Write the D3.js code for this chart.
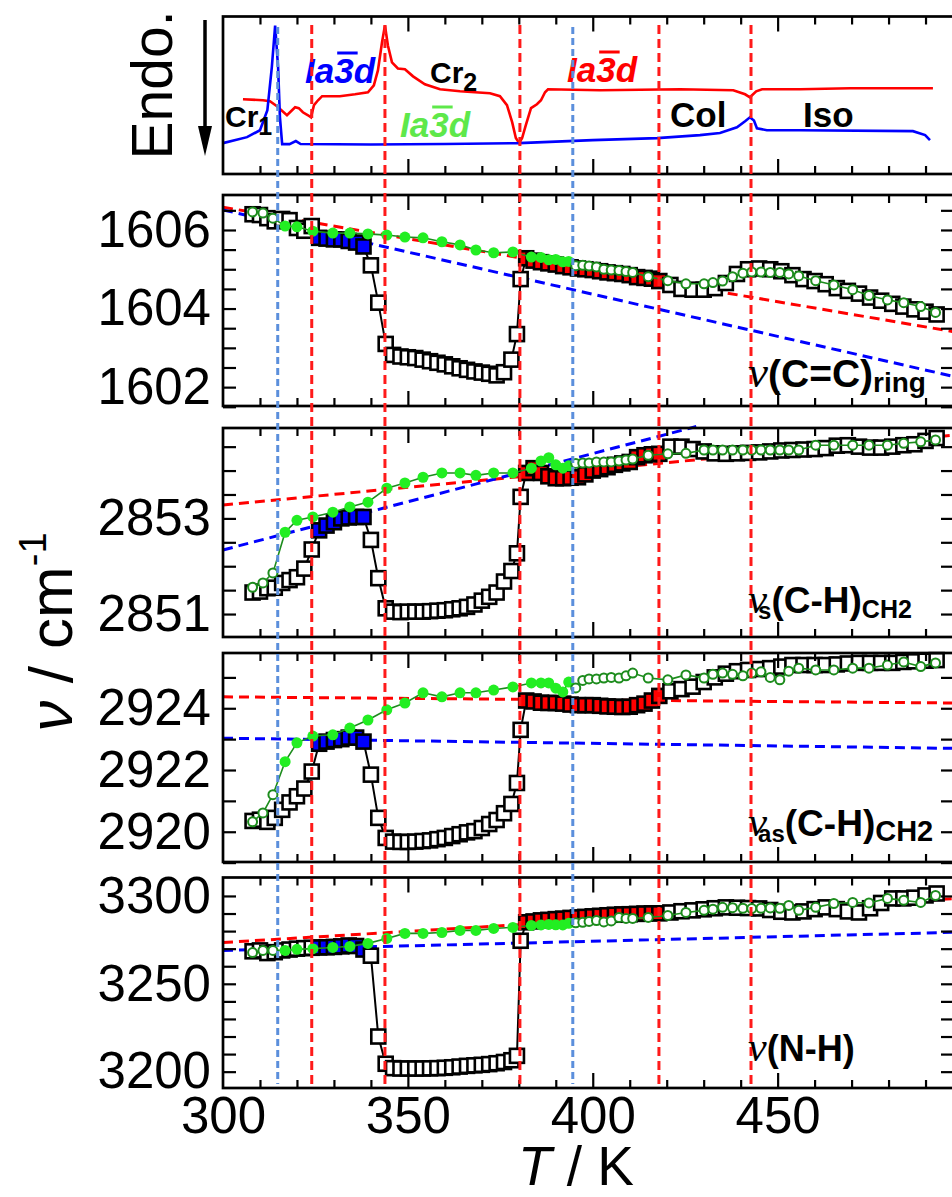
<!DOCTYPE html>
<meta charset="utf-8">
<head>
<script src="https://cdn.jsdelivr.net/npm/d3@7"></script>
<style>
body { margin: 0; background: #fff; }
text { font-family: "Liberation Sans", Arial, sans-serif; }
</style>
</head>
<body>
<div id="chart"></div>
<script>

// ---------- data ----------
// DSC traces, arbitrary heat-flow units vs T (K)
var dscBlueT = [300, 306.5, 310, 312, 313.2, 314.1, 314.9, 315.4, 316, 318, 319.7, 321, 340, 360, 380, 400, 417.4, 429, 434.4, 439, 441.2, 442.5, 443.6, 444.4, 447.1, 456, 486.6, 489.9, 491.2];
var dscBlue  = [1.96, 2.34, 2.78, 4.05, 6.77, 9.43, 6.77, 3.6, 1.9, 1.9, 2.09, 1.9, 1.87, 1.9, 1.96, 2.15, 2.28, 2.47, 2.6, 2.97, 3.35, 3.6, 3.4, 2.9, 2.78, 2.78, 2.72, 2.47, 2.15];
var dscRedT = [305.4, 310.8, 312.7, 314.6, 317.3, 319.5, 320.5, 321.6, 323.0, 323.8, 324.6, 325.7, 326.8, 331.6, 335.7, 339.2, 340.8, 341.9, 343.0, 343.8, 344.6, 345.7, 347.3, 349.2, 351.4, 354.6, 358.7, 364.1, 372.2, 374.9, 376.8, 378.2, 379.2, 380.1, 380.9, 381.9, 383.3, 384.9, 386.0, 387.1, 387.9, 402.0, 423.6, 438.0, 441.2, 442.5, 444.2, 445.8, 456.1, 469.6, 492.0];
var dscRed  = [4.75, 4.68, 4.62, 4.3, 3.73, 4.24, 4.18, 3.92, 3.73, 3.6, 4.37, 4.68, 4.94, 4.94, 5.06, 5.19, 5.63, 6.58, 8.35, 9.43, 8.16, 7.09, 6.7, 6.65, 6.2, 5.7, 5.38, 5.25, 5.13, 4.94, 4.37, 3.29, 2.28, 1.96, 2.28, 3.1, 4.18, 4.43, 4.68, 5.19, 5.38, 5.32, 5.38, 5.32, 5.06, 4.87, 5.25, 5.38, 5.38, 5.44, 5.44];

// phase boundaries (K)
var phaseRed = [324, 343.8, 380.3, 417.9, 442.8];
var phaseBlue = [314.8, 394.6];

// heating run (squares), temperatures shared by all four bands
var heatT = [308,310,312,314,316,318,320,322,324,326,328,330,332,334,336,338,340,342,344,346,348,350,352,354,356,358,360,362,364,366,368,370,372,374,376,378,379.5,380.5,382,384,386,388,390,392,394,396,398,400,402,404,406,408,410,412,414,416,418,421,424,427,430,433,436,439,442,445,448,451,454,457,460,463,466,469,472,475,478,481,484,487,490,493];

var heatCC = [1606.40,1606.38,1606.30,1606.22,1606.28,1606.25,1606.05,1605.98,1606.10,1605.80,
  1605.78,1605.76,1605.76,1605.72,1605.68,1605.58,1605.10,1604.15,1603.10,1602.82,
  1602.78,1602.76,1602.74,1602.70,1602.66,1602.62,1602.58,1602.53,1602.48,1602.44,
  1602.40,1602.37,1602.34,1602.30,1602.38,1602.70,
  1603.35,1604.75,
  1605.28,1605.22,1605.18,1605.15,1605.12,1605.08,1605.05,1605.02,1605.00,1604.98,
  1604.95,1604.92,1604.90,1604.88,1604.85,1604.80,1604.78,1604.76,1604.70,
  1604.60,1604.50,1604.48,1604.48,1604.52,1604.65,1604.88,1605.00,1605.02,1605.00,
  1604.95,1604.85,1604.75,1604.70,1604.62,1604.52,1604.45,1604.38,1604.28,1604.20,
  1604.12,1604.05,1603.98,1603.92,1603.85];

var heatCH2s = [2851.45,2851.47,2851.54,2851.55,2851.65,2851.71,2851.77,2851.95,2852.35,2852.75,
  2852.85,2852.92,2853.00,2853.02,2853.03,2853.03,2852.55,2851.75,2851.12,2851.05,
  2851.04,2851.05,2851.05,2851.05,2851.06,2851.07,2851.08,2851.10,2851.12,2851.15,
  2851.20,2851.28,2851.36,2851.45,2851.68,2851.90,
  2852.27,2853.45,
  2853.95,2854.05,2853.95,2853.88,2853.84,2853.84,2853.85,2853.86,2853.92,2854.00,
  2854.03,2854.07,2854.12,2854.15,2854.18,2854.28,2854.32,2854.34,2854.35,
  2854.50,2854.50,2854.45,2854.40,2854.36,2854.35,2854.36,2854.37,2854.38,2854.40,
  2854.42,2854.43,2854.44,2854.45,2854.47,2854.52,2854.53,2854.50,2854.48,2854.48,
  2854.50,2854.53,2854.55,2854.62,2854.68];

var heatCH2as = [2920.35,2920.39,2920.32,2920.45,2920.71,2920.95,2921.15,2921.40,2921.95,2922.85,
  2922.92,2922.97,2923.00,2923.05,2923.05,2922.92,2921.85,2920.45,2919.80,2919.68,
  2919.67,2919.67,2919.68,2919.70,2919.72,2919.76,2919.80,2919.86,2919.92,2919.98,
  2920.02,2920.12,2920.25,2920.38,2920.60,2920.90,
  2921.58,2923.30,
  2924.25,2924.22,2924.18,2924.17,2924.17,2924.15,2924.12,2924.10,2924.10,2924.10,
  2924.08,2924.06,2924.05,2924.04,2924.05,2924.10,2924.15,2924.25,2924.40,
  2924.55,2924.62,2924.70,2924.85,2925.00,2925.12,2925.20,2925.24,2925.27,2925.30,
  2925.35,2925.40,2925.40,2925.40,2925.40,2925.42,2925.45,2925.47,2925.47,2925.47,
  2925.47,2925.50,2925.52,2925.54,2925.56];

var heatNH = [3268.5,3269.0,3267.5,3268.0,3269.0,3269.5,3270.0,3270.3,3270.5,3270.7,
  3270.8,3271.0,3271.3,3271.8,3271.5,3269.5,3266.0,3220.0,3204.5,3202.0,
  3201.8,3201.8,3201.8,3201.8,3201.9,3202.0,3202.2,3202.5,3202.9,3203.3,
  3203.6,3203.9,3204.3,3204.8,3205.5,3206.5,
  3209.0,3274.5,
  3285.0,3285.5,3286.1,3286.4,3286.8,3287.1,3287.5,3287.8,3288.1,3288.4,
  3288.7,3289.0,3289.3,3289.5,3289.6,3289.8,3290.0,3290.1,3290.1,
  3290.6,3291.3,3291.8,3292.4,3293.0,3293.5,3293.3,3293.1,3292.9,3292.0,
  3291.0,3290.6,3291.2,3292.5,3293.5,3292.5,3291.2,3290.6,3293.0,3296.0,
  3298.6,3298.6,3299.0,3300.3,3301.4];

// cooling run (green circles)
var coolT = [308,310.8,313.5,316.8,320,324.3,329.7,334.3,339.2,344.3,
  349.2,354.1,359.2,364.1,368.4,373.2,378.4,383.4,386,388.1,
  390,391.9,393.5,395.4,397.3,399,401,403,405,407.1,
  409,410.8,415,420.3,425.2,430.1,432.5,435.1,437.8,440.6,
  443,445.5,448,450.6,453,455.7,460.3,465.2,470.3,474.7,
  479.7,484.1,488.7,492.7];

var coolCC = [1606.46,1606.43,1606.30,1606.10,1606.08,1605.97,1605.92,1605.92,1605.90,1605.87,
  1605.82,1605.80,1605.70,1605.62,1605.49,1605.42,1605.44,1605.31,1605.30,1605.24,
  1605.25,1605.19,1605.20,1605.09,1605.10,1605.08,1605.06,1605.00,1604.98,1604.97,
  1604.94,1604.92,1604.81,1604.71,1604.63,1604.63,1604.66,1604.70,1604.81,1604.90,
  1604.93,1604.93,1604.92,1604.92,1604.88,1604.83,1604.71,1604.60,1604.48,1604.33,
  1604.22,1604.15,1604.05,1603.90];

var coolCH2s = [2851.56,2851.65,2851.86,2852.71,2852.96,2853.03,2853.13,2853.24,2853.34,2853.63,
  2853.74,2853.86,2853.95,2853.95,2853.90,2853.95,2853.95,2854.05,2854.20,2854.27,
  2854.12,2854.05,2854.10,2854.15,2854.16,2854.16,2854.18,2854.18,2854.18,2854.20,
  2854.22,2854.24,2854.32,2854.35,2854.36,2854.43,2854.43,2854.43,2854.43,2854.43,
  2854.43,2854.43,2854.43,2854.43,2854.43,2854.43,2854.53,2854.53,2854.53,2854.53,
  2854.53,2854.57,2854.60,2854.64];

var coolCH2as = [2920.32,2920.61,2921.20,2922.27,2922.88,2923.10,2923.14,2923.36,2923.62,2923.95,
  2924.17,2924.50,2924.37,2924.50,2924.50,2924.59,2924.69,2924.82,2924.82,2924.82,
  2924.65,2924.53,2924.85,2924.66,2924.90,2924.95,2924.95,2924.98,2925.00,2924.98,
  2925.05,2925.14,2924.98,2924.92,2925.08,2924.98,2925.10,2925.14,2925.10,2925.05,
  2925.14,2925.18,2925.00,2924.92,2925.20,2925.30,2925.24,2925.24,2925.30,2925.30,
  2925.40,2925.50,2925.35,2925.47];

var coolNH = [3267.8,3269.0,3269.0,3269.0,3269.6,3270.0,3270.7,3271.3,3273.0,3275.8,
  3278.7,3278.7,3279.2,3280.4,3280.4,3281.5,3282.1,3283.2,3283.5,3283.8,
  3283.6,3283.5,3284.4,3284.7,3285.0,3285.5,3286.0,3285.2,3285.8,3287.8,
  3287.2,3287.2,3287.8,3288.9,3290.6,3291.8,3292.5,3293.5,3293.3,3293.0,
  3292.8,3293.0,3293.2,3293.0,3294.6,3291.8,3293.5,3295.7,3296.3,3296.0,
  3298.6,3297.5,3296.3,3300.3];

// linear reference lines [T, value]
var fitRedCC = [[300, 1606.58], [497.7, 1603.41]];
var fitBlueCC = [[300, 1606.51], [497.7, 1602.27]];
var fitRedCH2s = [[300, 2853.28], [497.7, 2854.74]];
var fitBlueCH2s = [[300, 2852.34], [428, 2854.92]];
var fitRedCH2as = [[300, 2924.37], [497.7, 2924.17]];
var fitBlueCH2as = [[300, 2923.03], [497.7, 2922.70]];
var fitRedNH = [[300, 3273.5], [497.7, 3298.5]];
var fitBlueNH = [[300, 3269.0], [497.7, 3279.3]];

// axis ticks
var xMajor = [300, 350, 400, 450];
var ticksCC = d3.range(1601.5, 1607, 0.5), majorCC = [1602, 1604, 1606];
var ticksCH2s = d3.range(2851, 2855, 0.5), majorCH2s = [2851, 2853];
var ticksCH2as = d3.range(2919, 2926, 1), majorCH2as = [2920, 2922, 2924];
var ticksNH = d3.range(3200, 3310, 10), majorNH = [3200, 3250, 3300];

// ---------- layout ----------
var width = 952, height = 1197;
var left = 223, right = 954;

var svg = d3.select("#chart").append("svg")
    .attr("width", width)
    .attr("height", height);

var x = d3.scaleLinear().domain([300, 497.7]).range([left, right]);

var panels = [
  {top: 195, bottom: 406, dom: [1601.52, 1606.89], ticks: ticksCC, major: majorCC,
   heat: heatCC, cool: coolCC, fitRed: fitRedCC, fitBlue: fitBlueCC},
  {top: 428, bottom: 637, dom: [2850.52, 2854.89], ticks: ticksCH2s, major: majorCH2s,
   heat: heatCH2s, cool: coolCH2s, fitRed: fitRedCH2s, fitBlue: fitBlueCH2s},
  {top: 653, bottom: 862, dom: [2919.02, 2925.79], ticks: ticksCH2as, major: majorCH2as,
   heat: heatCH2as, cool: coolCH2as, fitRed: fitRedCH2as, fitBlue: fitBlueCH2as},
  {top: 877.5, bottom: 1088, dom: [3190.7, 3310.5], ticks: ticksNH, major: majorNH,
   heat: heatNH, cool: coolNH, fitRed: fitRedNH, fitBlue: fitBlueNH}
];

function xTicks(top, bottom) {
  var minor = d3.range(310, 497, 10).filter(function(t) { return t % 50 != 0; });
  var major = [350, 400, 450];
  [[minor, 8], [major, 15]].forEach(function(m) {
    svg.append("g").attr("class", "tk")
        .attr("transform", "translate(0," + bottom + ")")
        .call(d3.axisBottom(x).tickValues(m[0]).tickSize(-m[1]).tickFormat(""));
    svg.append("g").attr("class", "tk")
        .attr("transform", "translate(0," + top + ")")
        .call(d3.axisTop(x).tickValues(m[0]).tickSize(-m[1]).tickFormat(""));
  });
}

function frame(top, bottom) {
  svg.append("rect")
      .attr("x", left).attr("y", top)
      .attr("width", right - left).attr("height", bottom - top)
      .attr("fill", "none").attr("stroke", "#000").attr("stroke-width", 2.7);
}

// ---------- DSC panel ----------
var dscTop = 16.5, dscBottom = 174;
var yDsc = d3.scaleLinear().domain([0, 10]).range([dscBottom, dscTop]);
var dscLine = d3.line().x(function(d) { return x(d[0]); }).y(function(d) { return yDsc(d[1]); });

svg.append("path")
    .datum(dscRedT.map(function(t, i) { return [t, dscRed[i]]; }))
    .attr("d", dscLine).attr("fill", "none").attr("stroke", "#ff0000").attr("stroke-width", 2.6);
svg.append("path")
    .datum(dscBlueT.map(function(t, i) { return [t, dscBlue[i]]; }))
    .attr("d", dscLine).attr("fill", "none").attr("stroke", "#0000ff").attr("stroke-width", 2.6);

xTicks(dscTop, dscBottom);
frame(dscTop, dscBottom);

function phaseText(px, py, name, sub, size) {
  var t = svg.append("text").attr("x", px).attr("y", py)
      .attr("font-size", size).attr("font-weight", "bold").text(name);
  if (sub) t.append("tspan").attr("font-size", 25).attr("dy", 8).text(sub);
}

function ia3d(px, py, color) {
  var t = svg.append("text").attr("x", px).attr("y", py)
      .attr("fill", color).attr("font-size", 35)
      .attr("font-weight", "bold").attr("font-style", "italic")
      .text("Ia3d");
  var b = t.node().getExtentOfChar(2);
  svg.append("line")
      .attr("x1", b.x + 3).attr("x2", b.x + b.width + 4)
      .attr("y1", b.y + 2).attr("y2", b.y + 2)
      .attr("stroke", color).attr("stroke-width", 3);
}

phaseText(225, 127, "Cr", "1", 30);
phaseText(430, 83, "Cr", "2", 30);
phaseText(670, 127, "Col", null, 35);
phaseText(803, 127, "Iso", null, 35);
ia3d(305, 83, "#0000ff");
ia3d(400, 137, "#5ee84a");
ia3d(567, 82, "#ff0000");

// Endo. arrow
svg.append("text")
    .attr("transform", "translate(172,85) rotate(-90)")
    .attr("text-anchor", "middle").attr("font-size", 57).text("Endo.");
svg.append("line").attr("x1", 205).attr("x2", 205).attr("y1", 20).attr("y2", 130)
    .attr("stroke", "#000").attr("stroke-width", 3.5);
svg.append("path").attr("d", "M198,126 L212,126 L205,156 Z").attr("fill", "#000");

// ---------- spectroscopy panels ----------
panels.forEach(function(p, k) {
  var y = d3.scaleLinear().domain(p.dom).range([p.bottom, p.top]);
  var line = d3.line().x(function(d) { return x(d[0]); }).y(function(d) { return y(d[1]); });
  var g = svg.append("g");

  // reference lines
  [[p.fitRed, "#ff0000"], [p.fitBlue, "#0000ff"]].forEach(function(f) {
    g.append("path").datum(f[0]).attr("d", line)
        .attr("fill", "none").attr("stroke", f[1]).attr("stroke-width", 3)
        .attr("stroke-dasharray", "10,6");
  });

  // heating: squares
  var heat = heatT.map(function(t, i) { return [t, p.heat[i]]; });
  g.append("path").datum(heat).attr("d", line)
      .attr("fill", "none").attr("stroke", "#000").attr("stroke-width", 2);
  g.selectAll(".sq").data(heat).enter().append("rect")
      .attr("x", function(d) { return x(d[0]) - 7; })
      .attr("y", function(d) { return y(d[1]) - 7; })
      .attr("width", 14).attr("height", 14)
      .attr("fill", function(d) {
        if (d[0] > 324 && d[0] < 339) return "#0000ff";
        if (d[0] > 381 && d[0] <= 418) return "#ff0000";
        return "#fff";
      })
      .attr("stroke", "#000").attr("stroke-width", 2.6);

  // cooling: circles
  var cool = coolT.map(function(t, i) { return [t, p.cool[i]]; });
  g.append("path").datum(cool).attr("d", line)
      .attr("fill", "none").attr("stroke", "#1d8c1d").attr("stroke-width", 1.6);
  g.selectAll(".ci").data(cool).enter().append("circle")
      .attr("cx", function(d) { return x(d[0]); })
      .attr("cy", function(d) { return y(d[1]); })
      .attr("r", function(d) { return (d[0] > 314 && d[0] < 394.6) ? 5.5 : 4.5; })
      .attr("fill", function(d) { return (d[0] > 314 && d[0] < 394.6) ? "#22ee22" : "#fff"; })
      .attr("stroke", function(d) { return (d[0] > 314 && d[0] < 394.6) ? "none" : "#1d8c1d"; })
      .attr("stroke-width", 2);

  // y axes
  svg.append("g").attr("class", "tk yl")
      .attr("transform", "translate(" + left + ",0)")
      .call(d3.axisLeft(y).tickValues(p.ticks).tickSize(-13).tickPadding(12)
        .tickFormat(function(d) { return p.major.indexOf(d) >= 0 ? d : ""; }));
  svg.append("g").attr("class", "tk")
      .attr("transform", "translate(" + right + ",0)")
      .call(d3.axisRight(y).tickValues(p.ticks).tickSize(-13).tickFormat(""));

  xTicks(p.top, p.bottom);
  frame(p.top, p.bottom);
});

// bottom tick labels
svg.append("g").attr("class", "tk xl")
    .attr("transform", "translate(0,1088)")
    .call(d3.axisBottom(x).tickValues(xMajor).tickSize(0).tickPadding(9));

svg.selectAll(".tk path.domain").remove();
svg.selectAll(".tk line").attr("stroke", "#000").attr("stroke-width", 2.2);
svg.selectAll(".yl text, .xl text")
    .attr("font-size", 51).attr("fill", "#000")
    .style("font-family", "'Liberation Sans', Arial, sans-serif");

// phase boundary lines
phaseRed.forEach(function(t) {
  svg.append("line").attr("x1", x(t)).attr("x2", x(t)).attr("y1", 25).attr("y2", 1087)
      .attr("stroke", "#ff1a1a").attr("stroke-width", 3).attr("stroke-dasharray", "9,5");
});
phaseBlue.forEach(function(t) {
  svg.append("line").attr("x1", x(t)).attr("x2", x(t)).attr("y1", 27).attr("y2", 1084)
      .attr("stroke", "#5b8fdc").attr("stroke-width", 3).attr("stroke-dasharray", "7,4");
});

// band labels
function bandLabel(px, py, sub1, main, sub2, size, subSize) {
  var t = svg.append("text").attr("x", px).attr("y", py)
      .attr("font-size", size).attr("font-weight", "bold");
  t.append("tspan").text("ν")
      .style("font-family", "'Liberation Serif', serif")
      .attr("font-style", "italic").attr("font-weight", "normal").attr("font-size", size + 6);
  if (sub1) t.append("tspan").attr("font-size", 24).attr("dx", -9).attr("dy", 6).text(sub1);
  t.append("tspan").attr("dy", sub1 ? -6 : 0).text(main);
  if (sub2) t.append("tspan").attr("font-size", subSize).attr("dy", 5).text(sub2);
}
bandLabel(748, 387, null, "(C=C)", "ring", 39, 28);
bandLabel(748, 613, "s", "(C-H)", "CH2", 37, 25);
bandLabel(748, 836, "as", "(C-H)", "CH2", 37, 29);
bandLabel(748, 1061, null, "(N-H)", null, 36, 0);

// axis titles
var yt = svg.append("text")
    .attr("transform", "translate(72,632) rotate(-90)")
    .attr("text-anchor", "middle").attr("font-size", 62);
yt.append("tspan").attr("font-style", "italic").text("ν");
yt.append("tspan").text(" / cm");
yt.append("tspan").attr("font-size", 38).attr("dy", -26).text("-1");

var xt = svg.append("text")
    .attr("x", 576).attr("y", 1185)
    .attr("text-anchor", "middle").attr("font-size", 55);
xt.append("tspan").attr("font-style", "italic").text("T");
xt.append("tspan").text(" / K");

</script>
</body>
